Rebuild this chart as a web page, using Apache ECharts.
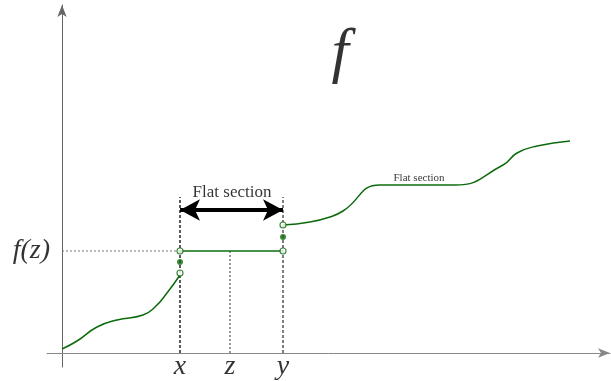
<!DOCTYPE html>
<html>
<head>
    <meta charset="UTF-8">
    <title>Flat section</title>
    <script src="https://cdn.jsdelivr.net/npm/echarts@6/dist/echarts.min.js"></script>
</head>
<body style="margin:0">
<div id="main" style="width: 611px;height:381px;"></div>
<script type="text/javascript">
    // curve pieces (x, f(x))
    var curveLeft = [[0, 4], [15, 12], [35, 26], [55, 33], [81, 38], [93, 46], [105, 60], [118, 78]];
    var flatMid = [[118, 102], [221, 102]];
    var curveRight = [[221, 128], [248, 131], [268, 136], [281, 142], [318, 168], [393, 168],
        [441, 188], [455, 200], [475, 207], [508, 212]];
    var openEnds = [[118, 80], [118, 102], [221, 102], [221, 128]];
    var heldPoints = [[118, 91], [221, 116]];

    // guide lines
    var xGuide = [[118, 0], [118, 156]];
    var yGuide = [[221, 0], [221, 156]];
    var zGuide = [[168, 0], [168, 102]];
    var fzGuide = [[0, 102], [118, 102]];
    var flatArrow = [[118, 143], [221, 143]];

    // texts
    var tickNames = ['x', 'z', 'y'];
    var tickAt = [118, 168, 221];
    var bigTitle = [278, 298];
    var flatTitle = [170, 160];
    var flatSmall = [357, 175];
    var fzAt = [0, 102];

    var green = '#0d6b0d';
    var serif = 'Liberation Serif';

    function guide(data, type, color, width) {
        return {
            type: 'line', data: data, symbol: 'none', silent: true, z: 1,
            lineStyle: {color: color, width: width, type: type}
        };
    }

    function textAt(point, text, size, style, position, distance) {
        return {
            type: 'scatter', symbolSize: 0, silent: true, clip: false, z: 5,
            data: [point],
            label: {
                show: true, position: position || 'inside', distance: distance || 0,
                formatter: text, color: '#000', fontFamily: serif,
                fontSize: size, fontStyle: style || 'normal'
            }
        };
    }

    function curve(data) {
        return {
            type: 'line', data: data, symbol: 'none', smooth: 0.5, z: 3,
            lineStyle: {color: green, width: 1.5}
        };
    }

    var myChart = echarts.init(document.getElementById('main'));

    var right = curve(curveRight);
    right.markLine = {
        silent: true, symbol: ['arrow', 'arrow'], symbolSize: [16, 20],
        label: {show: false},
        lineStyle: {color: '#000', width: 4, type: 'solid'},
        data: [[{coord: flatArrow[0]}, {coord: flatArrow[1]}]]
    };

    var series = [
        guide(xGuide, [3, 2], '#222', 1.5),
        guide(yGuide, [3, 2], '#555', 1.5),
        guide(zGuide, [2, 2], '#333', 1),
        guide(fzGuide, [2, 2], '#777', 1),
        curve(curveLeft),
        {type: 'line', data: flatMid, symbol: 'none', z: 3, lineStyle: {color: green, width: 1.5}},
        right,
        {type: 'scatter', data: openEnds, symbol: 'circle', symbolSize: 6, z: 4,
            itemStyle: {color: '#fff', borderColor: green, borderWidth: 1.2}},
        {type: 'scatter', data: heldPoints, symbol: 'circle', symbolSize: 6, z: 4,
            itemStyle: {color: green}},
        textAt(bigTitle, 'f', 62, 'italic'),
        textAt(flatTitle, 'Flat section', 17),
        textAt(flatSmall, 'Flat section', 11),
        textAt(fzAt, 'f(z)', 28, 'italic', 'left', 12)
    ];
    tickNames.forEach(function (name, i) {
        series.push(textAt([tickAt[i], 0], name, 28, 'italic', 'bottom', 0));
    });

    var option = {
        animation: false,
        grid: {left: 47, right: 1, top: 5, bottom: 14},
        xAxis: {
            type: 'value', min: -15, max: 548,
            axisLine: {onZero: true, symbol: ['none', 'arrow'], symbolSize: [7, 12],
                lineStyle: {color: '#888', width: 1}},
            axisTick: {show: false}, axisLabel: {show: false}, splitLine: {show: false}
        },
        yAxis: {
            type: 'value', min: -14, max: 348,
            axisLine: {onZero: true, symbol: ['none', 'arrow'], symbolSize: [7, 12],
                lineStyle: {color: '#666', width: 1}},
            axisTick: {show: false}, axisLabel: {show: false}, splitLine: {show: false}
        },
        series: series
    };
    myChart.setOption(option);
</script>
</body>
</html>
